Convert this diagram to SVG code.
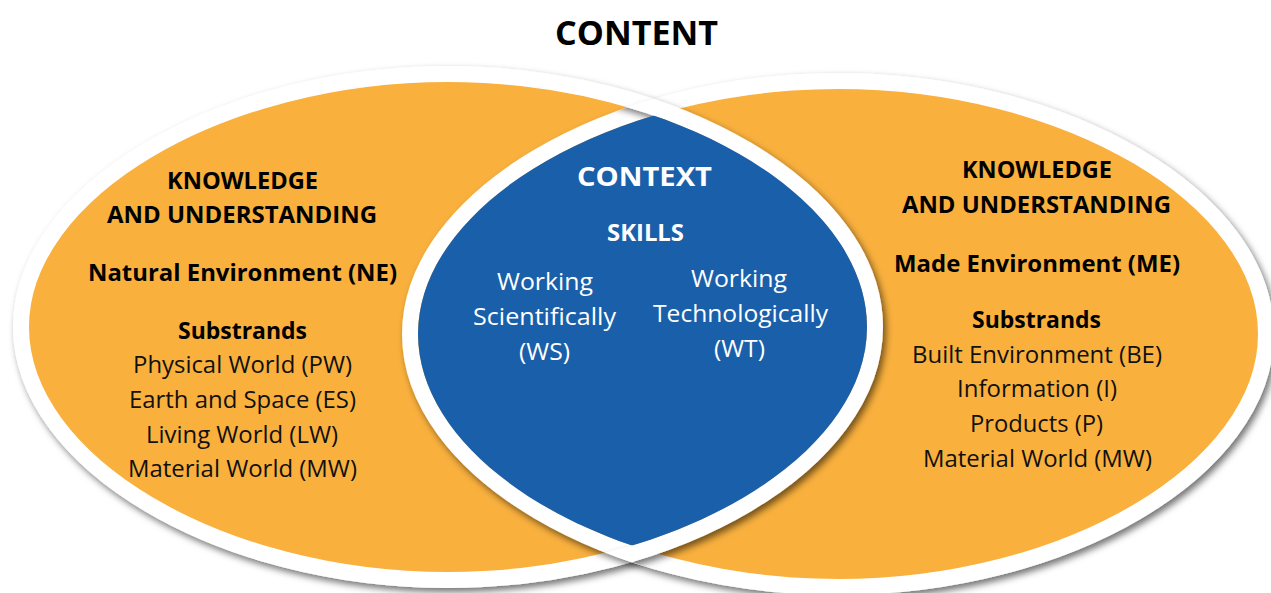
<svg xmlns="http://www.w3.org/2000/svg" width="1271" height="593" viewBox="0 0 1271 593">
<style>
text{font-family:"Open Sans","Noto Sans","DejaVu Sans",sans-serif;text-anchor:middle}
.b{font-weight:bold;fill:#000}
.r{font-weight:normal;fill:#111}
.w{fill:#fff}
.wb{fill:#fff;font-weight:bold}
.t{font-size:23px}
.orange{fill:#F9B03E;stroke:#fff;stroke-width:16}
.band{fill:none;stroke:#fff;stroke-width:16}
</style>
<defs>
<filter id="sh" x="-5%" y="-5%" width="112%" height="115%">
<feDropShadow dx="3" dy="4" stdDeviation="3.5" flood-color="#000" flood-opacity="0.55"/>
</filter>
<path id="leftMid" d="M21,327 C21,191.6 219.6,74 448,74 C676.4,74 875,191.6 875,327 C875,462.4 676.4,580 448,580 C219.6,580 21,462.4 21,327Z"/>
<path id="rightMid" d="M410,334 C410,198.6 609,81 838,81 C1067,81 1266,198.6 1266,334 C1266,469.4 1067,587 838,587 C609,587 410,469.4 410,334Z"/>
<clipPath id="rightOuter"><path d="M402,334 C402,194.4 604.7,73 838,73 C1071.3,73 1274,194.4 1274,334 C1274,473.6 1071.3,595 838,595 C604.7,595 402,473.6 402,334Z"/></clipPath>
<clipPath id="leftInner"><path d="M29,327 C29,195.9 223.8,82 448,82 C672.2,82 867,195.9 867,327 C867,458.1 672.2,572 448,572 C223.8,572 29,458.1 29,327Z"/></clipPath>
</defs>
<g id="left-ellipse">
<use href="#leftMid" class="orange" filter="url(#sh)"/>
</g>
<g id="right-ellipse">
<use href="#rightMid" class="orange" filter="url(#sh)"/>
</g>
<g id="left-band-over" clip-path="url(#rightOuter)">
<use href="#leftMid" class="band" filter="url(#sh)"/>
</g>
<g id="context-lens">
<path d="M418,334 C418,202.9 613.3,89 838,89 C1062.7,89 1258,202.9 1258,334 C1258,465.1 1062.7,579 838,579 C613.3,579 418,465.1 418,334Z" fill="#1A5FAA" clip-path="url(#leftInner)"/>
</g>
<g id="title">
<text x="636.5" y="45" class="b" font-size="34" textLength="163" lengthAdjust="spacingAndGlyphs">CONTENT</text>
</g>
<g id="natural-environment" class="t">
<text x="242.5" y="189" class="b" textLength="151" lengthAdjust="spacingAndGlyphs">KNOWLEDGE</text>
<text x="242" y="223" class="b" textLength="270" lengthAdjust="spacingAndGlyphs">AND UNDERSTANDING</text>
<text x="242.5" y="281" class="b" textLength="309" lengthAdjust="spacingAndGlyphs">Natural Environment (NE)</text>
<text x="242.5" y="339" class="b" textLength="129" lengthAdjust="spacingAndGlyphs">Substrands</text>
<text x="242.5" y="373" class="r" textLength="219" lengthAdjust="spacingAndGlyphs">Physical World (PW)</text>
<text x="242.5" y="408" class="r" textLength="227" lengthAdjust="spacingAndGlyphs">Earth and Space (ES)</text>
<text x="242" y="443" class="r" textLength="192" lengthAdjust="spacingAndGlyphs">Living World (LW)</text>
<text x="242.5" y="477" class="r" textLength="229" lengthAdjust="spacingAndGlyphs">Material World (MW)</text>
</g>
<g id="made-environment" class="t">
<text x="1037" y="178" class="b" textLength="150" lengthAdjust="spacingAndGlyphs">KNOWLEDGE</text>
<text x="1036.5" y="213" class="b" textLength="269" lengthAdjust="spacingAndGlyphs">AND UNDERSTANDING</text>
<text x="1037" y="272" class="b" textLength="286" lengthAdjust="spacingAndGlyphs">Made Environment (ME)</text>
<text x="1036.5" y="328" class="b" textLength="129" lengthAdjust="spacingAndGlyphs">Substrands</text>
<text x="1037" y="363" class="r" textLength="250" lengthAdjust="spacingAndGlyphs">Built Environment (BE)</text>
<text x="1037" y="397" class="r" textLength="160" lengthAdjust="spacingAndGlyphs">Information (I)</text>
<text x="1036.5" y="432" class="r" textLength="133" lengthAdjust="spacingAndGlyphs">Products (P)</text>
<text x="1037.5" y="467" class="r" textLength="229" lengthAdjust="spacingAndGlyphs">Material World (MW)</text>
</g>
<g id="context-skills" class="t">
<text x="644.5" y="186" class="wb" font-size="27" textLength="135" lengthAdjust="spacingAndGlyphs">CONTEXT</text>
<text x="645.5" y="241" class="wb" textLength="77" lengthAdjust="spacingAndGlyphs">SKILLS</text>
</g>
<g id="working-scientifically" class="t">
<text x="545" y="290" class="w" textLength="96" lengthAdjust="spacingAndGlyphs">Working</text>
<text x="544.5" y="325" class="w" textLength="143" lengthAdjust="spacingAndGlyphs">Scientifically</text>
<text x="544.5" y="360" class="w" textLength="51" lengthAdjust="spacingAndGlyphs">(WS)</text>
</g>
<g id="working-technologically" class="t">
<text x="739" y="287" class="w" textLength="96" lengthAdjust="spacingAndGlyphs">Working</text>
<text x="740.5" y="322" class="w" textLength="175" lengthAdjust="spacingAndGlyphs">Technologically</text>
<text x="739.5" y="357" class="w" textLength="51" lengthAdjust="spacingAndGlyphs">(WT)</text>
</g>
</svg>
